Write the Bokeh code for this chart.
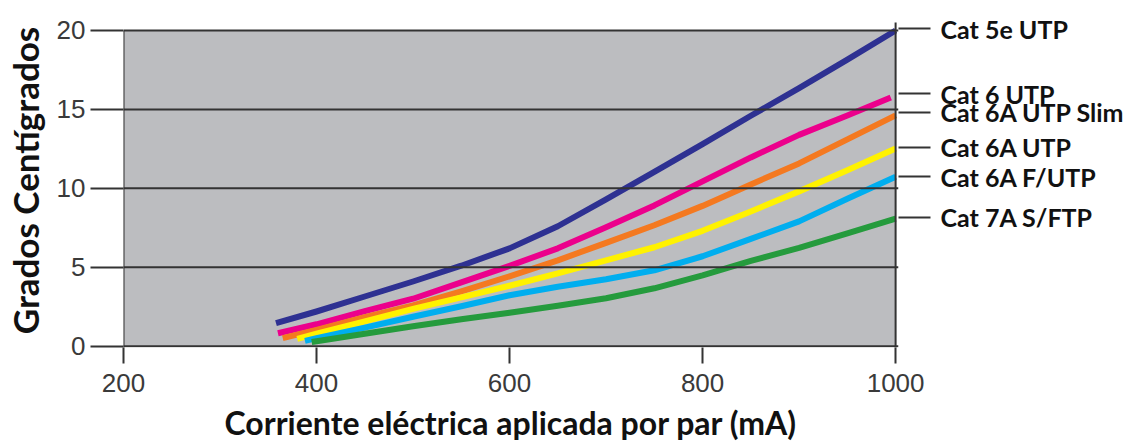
from bokeh.plotting import figure
from bokeh.models import FixedTicker, Range1d, LinearAxis
from bokeh.embed import file_html
from bokeh.resources import INLINE

# ---- data ----
x_ticks = [200, 400, 600, 800, 1000]
y_ticks = [0, 5, 10, 15, 20]

series_names = ["Cat 5e UTP", "Cat 6 UTP", "Cat 6A UTP Slim", "Cat 6A UTP", "Cat 6A F/UTP", "Cat 7A S/FTP"]

cat5e_x = [358, 400, 450, 500, 550, 600, 650, 700, 750, 800, 850, 900, 950, 1000]
cat5e_y = [1.46, 2.20, 3.15, 4.10, 5.10, 6.20, 7.60, 9.30, 11.05, 12.80, 14.60, 16.35, 18.15, 20.0]

cat6_x = [360, 400, 450, 500, 550, 600, 650, 700, 750, 800, 850, 900, 950, 995]
cat6_y = [0.82, 1.39, 2.22, 3.01, 4.05, 5.09, 6.20, 7.53, 8.92, 10.44, 11.96, 13.39, 14.62, 15.76]

cat6a_slim_x = [365, 400, 450, 500, 550, 600, 650, 700, 750, 800, 850, 900, 950, 1000]
cat6a_slim_y = [0.51, 1.04, 1.84, 2.59, 3.48, 4.43, 5.44, 6.55, 7.66, 8.89, 10.25, 11.58, 13.10, 14.62]

cat6a_x = [380, 400, 450, 500, 550, 600, 650, 700, 750, 800, 850, 900, 950, 1000]
cat6a_y = [0.47, 0.79, 1.58, 2.37, 3.10, 3.83, 4.62, 5.44, 6.27, 7.31, 8.54, 9.81, 11.14, 12.53]

cat6a_futp_x = [388, 400, 450, 500, 550, 600, 650, 700, 750, 800, 850, 900, 950, 1000]
cat6a_futp_y = [0.34, 0.51, 1.18, 1.87, 2.53, 3.23, 3.77, 4.24, 4.81, 5.70, 6.80, 7.91, 9.34, 10.73]

cat7a_x = [395, 400, 450, 500, 550, 600, 650, 700, 750, 800, 850, 900, 950, 1000]
cat7a_y = [0.27, 0.32, 0.79, 1.27, 1.71, 2.12, 2.56, 3.04, 3.67, 4.49, 5.41, 6.23, 7.15, 8.08]

# heights at which the right-hand captions sit
label_y = [20.11, 15.99, 14.83, 12.61, 10.72, 8.18]

x_title = "Corriente eléctrica aplicada por par (mA)"
y_title = "Grados Centígrados"

colors = ["#2e3192", "#ec008c", "#f47920", "#fff200", "#00aeef", "#259b3d"]
xs = [cat5e_x, cat6_x, cat6a_slim_x, cat6a_x, cat6a_futp_x, cat7a_x]
ys = [cat5e_y, cat6_y, cat6a_slim_y, cat6a_y, cat6a_futp_y, cat7a_y]

# ---- figure ----
Y0, Y1 = -0.08, 21.076
p = figure(width=1128, height=444,
           x_range=Range1d(200, 1003), y_range=Range1d(Y0, Y1),
           output_backend="svg", toolbar_location=None,
           min_border_left=123, min_border_right=228,
           min_border_top=13, min_border_bottom=97)
p.outline_line_color = None
p.background_fill_color = "white"
p.border_fill_color = "white"
p.xgrid.visible = False
p.ygrid.visible = False

grid_col = "#333333"

# gray plotting panel
p.quad(left=x_ticks[0], right=x_ticks[-1], bottom=y_ticks[0], top=y_ticks[-1],
       fill_color="#bcbdc0", line_color=None)

# curves
for x, y, c in zip(xs, ys, colors):
    p.line(x, y, line_color=c, line_width=6, line_cap="butt", line_join="round")

# horizontal grid lines (drawn over the curves, as in the original)
p.segment(x0=[x_ticks[0]] * len(y_ticks), x1=[1003] * len(y_ticks),
          y0=y_ticks, y1=y_ticks, line_color=grid_col, line_width=2)
# panel borders (left/right)
p.segment(x0=[x_ticks[0], x_ticks[-1]], x1=[x_ticks[0], x_ticks[-1]],
          y0=[Y0, Y0], y1=[y_ticks[-1], y_ticks[-1] + 0.5],
          line_color=grid_col, line_width=2)

# ---- axes ----
xa = p.xaxis[0]
xa.ticker = FixedTicker(ticks=x_ticks)
xa.axis_line_color = None
xa.major_tick_out = 16
xa.major_tick_in = 0
xa.minor_tick_out = 0
xa.minor_tick_in = 0
xa.major_tick_line_color = grid_col
xa.major_tick_line_width = 2
xa.major_label_standoff = 10
xa.major_label_text_font = "Liberation Sans"
xa.major_label_text_font_size = "26px"
xa.major_label_text_color = "#3a3a3a"
xa.axis_label = x_title
xa.axis_label_standoff = 8
xa.axis_label_text_font = "Lato"
xa.axis_label_text_font_style = "bold"
xa.axis_label_text_font_size = "32px"
xa.axis_label_text_color = "#111111"

ya = p.yaxis[0]
ya.ticker = FixedTicker(ticks=y_ticks)
ya.axis_line_color = None
ya.major_tick_out = 33
ya.major_tick_in = 0
ya.minor_tick_out = 0
ya.minor_tick_in = 0
ya.major_tick_line_color = grid_col
ya.major_tick_line_width = 2
ya.major_label_standoff = 5
ya.major_label_text_font = "Liberation Sans"
ya.major_label_text_font_size = "26px"
ya.major_label_text_color = "#3a3a3a"
ya.axis_label = y_title
ya.axis_label_standoff = 8
ya.axis_label_text_font = "Lato"
ya.axis_label_text_font_style = "bold"
ya.axis_label_text_font_size = "35px"
ya.axis_label_text_color = "#111111"

# right-hand captions: an axis whose ticks are the leader lines
ra = LinearAxis(ticker=FixedTicker(ticks=label_y),
                major_label_overrides={v: n for v, n in zip(label_y, series_names)})
ra.axis_line_color = None
ra.major_tick_out = 32
ra.major_tick_in = 0
ra.minor_tick_out = 0
ra.minor_tick_in = 0
ra.major_tick_line_color = grid_col
ra.major_tick_line_width = 2
ra.major_label_standoff = 10
ra.major_label_text_font = "Lato"
ra.major_label_text_font_style = "bold"
ra.major_label_text_font_size = "25px"
ra.major_label_text_color = "#111111"
p.add_layout(ra, "right")

open("out.html", "w").write(file_html(p, INLINE))
